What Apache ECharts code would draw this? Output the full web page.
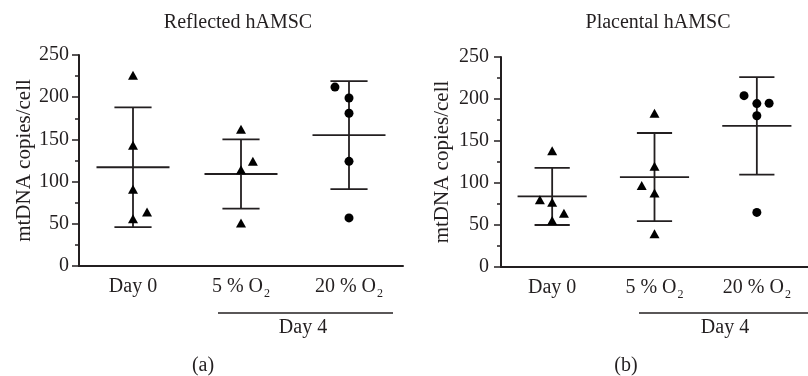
<!DOCTYPE html>
<html><head><meta charset="utf-8">
<script src="https://cdn.jsdelivr.net/npm/echarts@6/dist/echarts.min.js"></script>
<style>html,body{margin:0;padding:0;background:#fff}#c{width:808px;height:376px}</style>
</head><body><div id="c"></div>
<script>
// ---------- data ----------
const categories = ['Day 0', '5 % O2', '20 % O2'];
const yMin = 0, yMax = 250, yStep = 50;
const panelTitles = ['Reflected hAMSC', 'Placental hAMSC'];
const panelLetters = ['(a)', '(b)'];
const yAxisTitle = 'mtDNA copies/cell';
const groupLabel = 'Day 4';

// Reflected hAMSC
const reflDay0 = [226, 143, 91, 56, 64];
const reflDay0Jitter = [0, 0, 0, 0, 0.13];
const refl5 = [162, 124, 114, 51];
const refl5Jitter = [0, 0.11, 0, 0];
const refl20 = [212, 199, 181, 124, 57];
const refl20Jitter = [-0.13, 0, 0, 0, 0];
const reflMean = [117, 109, 155];
const reflSD = [71, 41, 64];

// Placental hAMSC
const plaDay0 = [138.5, 80, 77, 64, 55.5];
const plaDay0Jitter = [0, -0.12, 0, 0.115, 0];
const pla5 = [183, 120, 97, 88, 39.5];
const pla5Jitter = [0, 0, -0.125, 0, 0];
const pla20 = [204, 194.5, 195, 180, 65];
const pla20Jitter = [-0.125, 0, 0.12, 0, 0];
const plaMean = [84, 107, 168];
const plaSD = [34, 52.5, 58];

// ---------- chart ----------
const FONT = "'Liberation Serif', 'DejaVu Serif', serif";
const INK = '#231f20';
const chart = echarts.init(document.getElementById('c'), null, {renderer: 'canvas'});

function pts(vals, jit, idx) { return vals.map((v, i) => [idx + jit[i], v]); }
function errData(means, sds) { return means.map((m, i) => [i, m, sds[i]]); }

function renderErr(params, api) {
  const i = api.value(0), m = api.value(1), s = api.value(2);
  const c = api.coord([i, m]);
  const hi = api.coord([i, m + s])[1], lo = api.coord([i, m - s])[1];
  const bw = api.size([1, 0])[0];
  const capW = bw * 0.172, meanW = bw * 0.338;
  const st = {stroke: INK, lineWidth: 1.8};
  return {type: 'group', children: [
    {type: 'line', shape: {x1: c[0], y1: hi, x2: c[0], y2: lo}, style: st},
    {type: 'line', shape: {x1: c[0] - capW, y1: hi, x2: c[0] + capW, y2: hi}, style: st},
    {type: 'line', shape: {x1: c[0] - capW, y1: lo, x2: c[0] + capW, y2: lo}, style: st},
    {type: 'line', shape: {x1: c[0] - meanW, y1: c[1], x2: c[0] + meanW, y2: c[1]}, style: st}
  ]};
}

function catAxis(g) {
  return {
    type: 'category', gridIndex: g, data: categories, boundaryGap: true,
    axisLine: {show: true, onZero: false, lineStyle: {color: INK, width: 2}},
    axisTick: {show: false},
    axisLabel: {
      interval: 0, hideOverlap: false,
      color: INK, fontFamily: FONT, fontSize: 20, margin: 11,
      formatter: v => v.replace(/O2$/, 'O{s|2}'),
      rich: {s: {fontFamily: FONT, fontSize: 12, lineHeight: 12, verticalAlign: 'top', padding: [11, 0, 0, 1], color: INK}}
    },
    splitLine: {show: false}
  };
}
function valXAxis(g) {
  return {type: 'value', gridIndex: g, min: -0.5, max: 2.5, show: false};
}
function yAx(g, labelMargin, nameGap) {
  return {
    type: 'value', gridIndex: g, min: yMin, max: yMax, interval: yStep,
    name: yAxisTitle, nameLocation: 'middle', nameRotate: 90, nameGap: nameGap,
    nameTextStyle: {color: INK, fontFamily: FONT, fontSize: 21},
    axisLine: {show: true, onZero: false, lineStyle: {color: INK, width: 2}},
    axisTick: {show: true, length: 7, lineStyle: {color: INK, width: 1.5}},
    minorTick: {show: true, splitNumber: 2, length: 4, lineStyle: {color: INK, width: 1.5}},
    axisLabel: {color: INK, fontFamily: FONT, fontSize: 20, margin: labelMargin},
    splitLine: {show: false}, minorSplitLine: {show: false}
  };
}
function scatter(xIdx, yIdx, data, symbol, size) {
  return {type: 'scatter', xAxisIndex: xIdx, yAxisIndex: yIdx, data: data,
    symbol: symbol, symbolSize: size, itemStyle: {color: '#000', opacity: 1},
    z: 3, silent: true};
}

const option = {
  animation: false,
  backgroundColor: '#fff',
  title: [
    {text: panelTitles[0], left: 238, top: 13, textAlign: 'center', padding: 0,
     textStyle: {color: INK, fontFamily: FONT, fontSize: 20, fontWeight: 'normal'}},
    {text: panelTitles[1], left: 658, top: 13, textAlign: 'center', padding: 0,
     textStyle: {color: INK, fontFamily: FONT, fontSize: 20, fontWeight: 'normal'}}
  ],
  grid: [
    {left: 79, top: 55, width: 324, height: 211},
    {left: 501, top: 57, width: 321, height: 210}
  ],
  xAxis: [catAxis(0), valXAxis(0), catAxis(1), valXAxis(1)],
  yAxis: [yAx(0, 10, 43), yAx(1, 12, 48)],
  series: [
    scatter(1, 0, pts(reflDay0, reflDay0Jitter, 0), 'triangle', [10, 9]),
    scatter(1, 0, pts(refl5, refl5Jitter, 1), 'triangle', [10, 9]),
    scatter(1, 0, pts(refl20, refl20Jitter, 2), 'circle', 9),
    {type: 'custom', xAxisIndex: 0, yAxisIndex: 0, data: errData(reflMean, reflSD),
     renderItem: renderErr, encode: {x: 0, y: 1}, z: 2, silent: true},
    scatter(3, 1, pts(plaDay0, plaDay0Jitter, 0), 'triangle', [10, 9]),
    scatter(3, 1, pts(pla5, pla5Jitter, 1), 'triangle', [10, 9]),
    scatter(3, 1, pts(pla20, pla20Jitter, 2), 'circle', 9),
    {type: 'custom', xAxisIndex: 2, yAxisIndex: 1, data: errData(plaMean, plaSD),
     renderItem: renderErr, encode: {x: 0, y: 1}, z: 2, silent: true}
  ],
  graphic: [
    {type: 'line', shape: {x1: 218, y1: 313, x2: 393, y2: 313}, style: {stroke: INK, lineWidth: 1.5}},
    {type: 'line', shape: {x1: 639, y1: 313, x2: 808, y2: 313}, style: {stroke: INK, lineWidth: 1.5}},
    {type: 'text', x: 303, y: 328, style: {text: groupLabel, fill: INK, font: '20px ' + FONT, textAlign: 'center', textVerticalAlign: 'middle'}},
    {type: 'text', x: 725, y: 328, style: {text: groupLabel, fill: INK, font: '20px ' + FONT, textAlign: 'center', textVerticalAlign: 'middle'}},
    {type: 'text', x: 203, y: 366, style: {text: panelLetters[0], fill: INK, font: '20px ' + FONT, textAlign: 'center', textVerticalAlign: 'middle'}},
    {type: 'text', x: 626, y: 366, style: {text: panelLetters[1], fill: INK, font: '20px ' + FONT, textAlign: 'center', textVerticalAlign: 'middle'}}
  ]
};
chart.setOption(option);
</script>
</body></html>
